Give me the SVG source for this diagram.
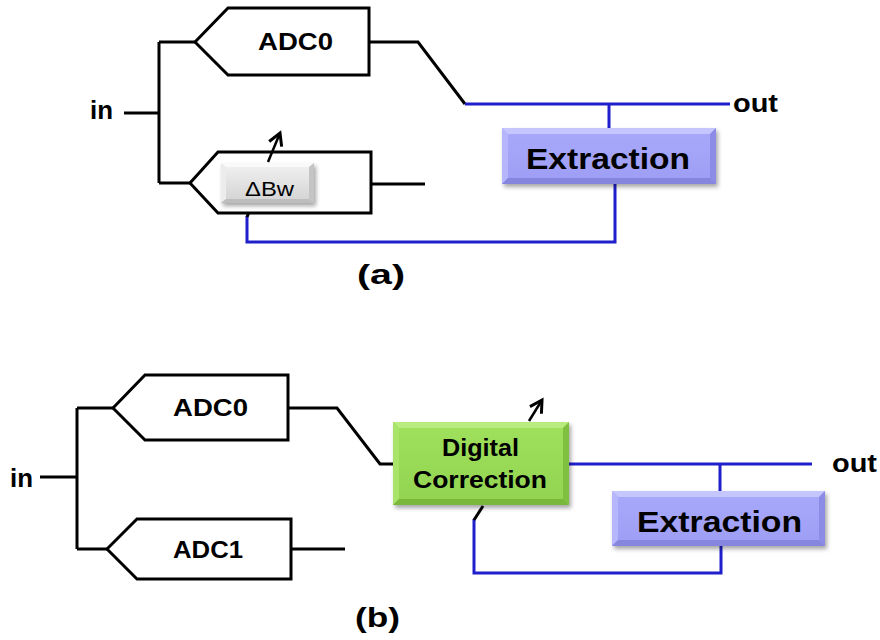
<svg xmlns="http://www.w3.org/2000/svg" width="880" height="640" viewBox="0 0 880 640">
<style>
.adc{fill:#fff;stroke:#000;stroke-width:3;stroke-linejoin:miter}
.wk{fill:none;stroke:#000;stroke-width:3;stroke-linejoin:miter}
.wb{fill:none;stroke:#1f1fcc;stroke-width:3;stroke-linejoin:miter}
.t{font-family:"Liberation Sans",Arial,sans-serif;font-weight:bold;fill:#000}
.tr{font-family:"Liberation Sans",Arial,sans-serif;fill:#000}
</style>
<defs>
<filter id="sh" x="-10%" y="-10%" width="125%" height="135%">
<feDropShadow dx="2" dy="3" stdDeviation="2" flood-color="#000" flood-opacity="0.35"/>
</filter>
<linearGradient id="gP" x1="0" y1="0" x2="0" y2="1">
<stop offset="0" stop-color="#a9a9fb"/><stop offset="1" stop-color="#9d9df4"/>
</linearGradient>
<linearGradient id="gG" x1="0" y1="0" x2="0" y2="1">
<stop offset="0" stop-color="#9fe05c"/><stop offset="1" stop-color="#92d450"/>
</linearGradient>
<linearGradient id="gW" x1="0" y1="0" x2="0" y2="1">
<stop offset="0" stop-color="#f2f2f2"/><stop offset="1" stop-color="#d2d2d2"/>
</linearGradient>
<marker id="ah2" viewBox="0 0 12 12" refX="10" refY="6" markerWidth="18" markerHeight="18" orient="auto" markerUnits="userSpaceOnUse">
<path d="M2,1.5 L10,6 L2,10.5" fill="none" stroke="#000" stroke-width="2"/>
</marker>
</defs>

<!-- Part (a) -->
<g id="a-connectors">
<path class="wk" d="M124,113 H159 M159,42 V183 M159,42 H195 M159,183 H190"/>
<path class="wk" d="M369,42 H418 L465,104"/>
<path class="wk" d="M371,184 H425"/>
<path class="wb" d="M465,104 H730 M609,104 V128"/>
<path class="wb" d="M615,184 V242 H247 V216"/>
<path class="wk" d="M252,205 L247,217"/>
</g>
<g id="a-in"><text class="t" x="90" y="119" font-size="26" textLength="23" lengthAdjust="spacingAndGlyphs">in</text></g>
<g id="a-out"><text class="t" x="733" y="112" font-size="26" textLength="45" lengthAdjust="spacingAndGlyphs">out</text></g>
<g id="a-adc0">
<polygon class="adc" points="195,42 228,8 369,8 369,75 228,75"/>
<text class="t" x="258" y="50" font-size="24" textLength="75" lengthAdjust="spacingAndGlyphs">ADC0</text>
</g>
<g id="a-adc1">
<polygon class="adc" points="190,183 218,152 371,152 371,213 218,213"/>
</g>
<g id="a-dbw">
<rect x="221" y="163" width="93" height="40" fill="url(#gW)" filter="url(#sh)"/>
<polygon points="221,163 314,163 309,167 226,167" fill="#fafafa"/>
<polygon points="221,163 226,167 226,199 221,203" fill="#ececec"/>
<polygon points="314,163 309,167 309,199 314,203" fill="#c4c4c4"/>
<polygon points="221,203 226,199 309,199 314,203" fill="#bdbdbd"/>
<text class="tr" x="245" y="196" font-size="21" textLength="49" lengthAdjust="spacingAndGlyphs">ΔBw</text>
</g>
<g id="a-arrow"><path d="M268,162 L280,133" fill="none" stroke="#000" stroke-width="2.5" marker-end="url(#ah2)"/></g>
<g id="a-extraction">
<rect x="502" y="128" width="214" height="56" fill="url(#gP)" filter="url(#sh)"/>
<polygon points="502,128 716,128 710,134 508,134" fill="#c6c6ff"/>
<polygon points="502,128 508,134 508,178 502,184" fill="#b6b6fd"/>
<polygon points="716,128 710,134 710,178 716,184" fill="#8c8ce6"/>
<polygon points="502,184 508,178 710,178 716,184" fill="#8686de"/>
<text class="t" x="526" y="169" font-size="30" textLength="164" lengthAdjust="spacingAndGlyphs">Extraction</text>
</g>
<g id="a-label"><text class="t" x="357" y="284" font-size="28" textLength="48" lengthAdjust="spacingAndGlyphs">(a)</text></g>

<!-- Part (b) -->
<g id="b-connectors">
<path class="wk" d="M40,477 H77 M77,408 V549 M77,408 H113 M77,549 H107"/>
<path class="wk" d="M288,408 H337 L380,464 H393"/>
<path class="wk" d="M291,549 H345"/>
<path class="wb" d="M569,464 H812 M720,464 V491"/>
<path class="wb" d="M721,546 V573 H474 V519"/>
<path class="wk" d="M483,506 L474,520"/>
</g>
<g id="b-in"><text class="t" x="10" y="487" font-size="26" textLength="23" lengthAdjust="spacingAndGlyphs">in</text></g>
<g id="b-out"><text class="t" x="832" y="472" font-size="26" textLength="45" lengthAdjust="spacingAndGlyphs">out</text></g>
<g id="b-adc0">
<polygon class="adc" points="113,408 145,375 288,375 288,440 145,440"/>
<text class="t" x="173" y="416" font-size="24" textLength="75" lengthAdjust="spacingAndGlyphs">ADC0</text>
</g>
<g id="b-adc1">
<polygon class="adc" points="107,549 137,519 291,519 291,579 137,579"/>
<text class="t" x="173" y="558" font-size="24" textLength="70" lengthAdjust="spacingAndGlyphs">ADC1</text>
</g>
<g id="b-correction">
<rect x="393" y="422" width="176" height="83" fill="url(#gG)" filter="url(#sh)"/>
<polygon points="393,422 569,422 563,428 399,428" fill="#b9ec7f"/>
<polygon points="393,422 399,428 399,499 393,505" fill="#a8e46a"/>
<polygon points="569,422 563,428 563,499 569,505" fill="#80c040"/>
<polygon points="393,505 399,499 563,499 569,505" fill="#7ab83c"/>
<text class="t" x="442" y="456" font-size="23" textLength="77" lengthAdjust="spacingAndGlyphs">Digital</text>
<text class="t" x="413" y="488" font-size="23" textLength="134" lengthAdjust="spacingAndGlyphs">Correction</text>
</g>
<g id="b-arrow"><path d="M529,421 L542,400" fill="none" stroke="#000" stroke-width="2.5" marker-end="url(#ah2)"/></g>
<g id="b-extraction">
<rect x="612" y="491" width="213" height="55" fill="url(#gP)" filter="url(#sh)"/>
<polygon points="612,491 825,491 819,497 618,497" fill="#c6c6ff"/>
<polygon points="612,491 618,497 618,540 612,546" fill="#b6b6fd"/>
<polygon points="825,491 819,497 819,540 825,546" fill="#8c8ce6"/>
<polygon points="612,546 618,540 819,540 825,546" fill="#8686de"/>
<text class="t" x="637" y="532" font-size="30" textLength="165" lengthAdjust="spacingAndGlyphs">Extraction</text>
</g>
<g id="b-label"><text class="t" x="355" y="627" font-size="28" textLength="45" lengthAdjust="spacingAndGlyphs">(b)</text></g>
</svg>
